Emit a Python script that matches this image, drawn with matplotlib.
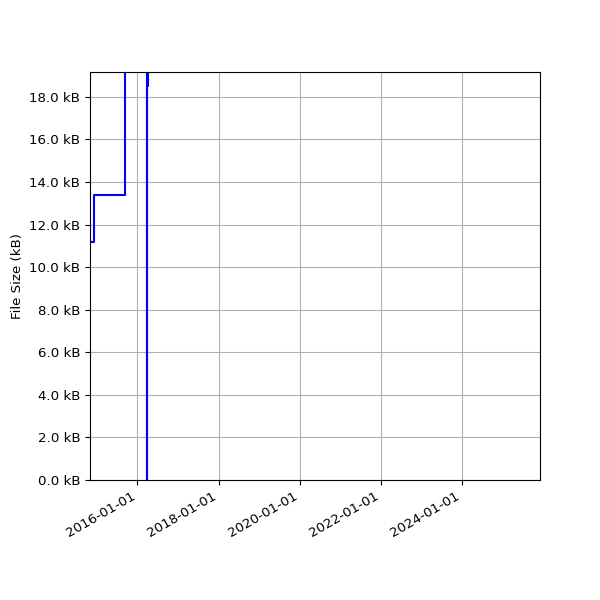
import matplotlib
matplotlib.use("Agg")
import matplotlib.pyplot as plt
import matplotlib.dates as mdates
from matplotlib.ticker import FuncFormatter
import pandas as pd

# file size history (bytes)
dates = ["2014-11-01", "2014-12-08", "2015-09-10", "2015-09-16",
         "2016-03-24", "2016-03-30", "2016-04-03"]
sizes = [11200, 13400, 18500, 26000, 0, 18500, 26000]

x_start = "2014-11-01"
x_end = "2025-12-01"
y_top = 19170

plt.rcParams['font.size'] = 9.6

fig, ax = plt.subplots(figsize=(6, 6), dpi=100)
ax.step(pd.to_datetime(dates), sizes, where="post", color="blue")
ax.set_xlim(pd.Timestamp(x_start), pd.Timestamp(x_end))
ax.set_ylim(0, y_top)
ax.set_ylabel("File Size (kB)")
ax.yaxis.set_major_formatter(FuncFormatter(lambda v, p: f"{v/1000:.1f} kB"))
ax.yaxis.set_major_locator(plt.MultipleLocator(2000))
ax.xaxis.set_major_locator(mdates.YearLocator(2))
ax.xaxis.set_major_formatter(mdates.DateFormatter("%Y-%m-%d"))
ax.grid(True)
fig.autofmt_xdate()
fig.subplots_adjust(left=0.15, right=0.9, top=0.88, bottom=0.2)
fig.savefig("out.png", dpi=100)
